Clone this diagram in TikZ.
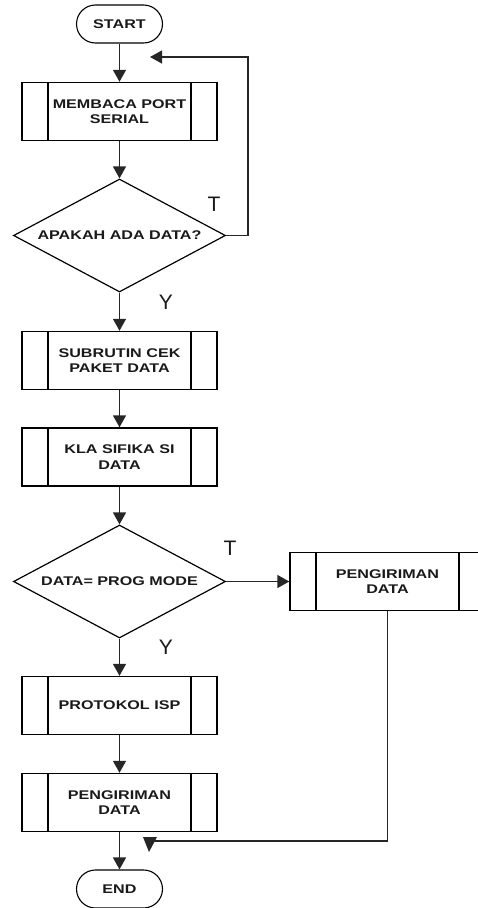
\documentclass[tikz,border=0pt]{standalone}
\usepackage{fontspec}
\setmainfont{Liberation Sans}
\usepackage{graphicx}
\usetikzlibrary{shapes.geometric,arrows.meta}

% wide, bold box captions
\newcommand\wtxt[1]{\scalebox{1.28}[1]{#1}}

\begin{document}
\begin{tikzpicture}[x=1pt,y=-1pt,
  line width=1.4pt,
  every node/.style={font=\fontsize{12.6}{15.5}\selectfont\bfseries, text=black!90},
  flow/.style={-{Triangle[width=13pt,length=12pt]}, draw=black!85},
  term/.style={draw, line width=1.1pt, rounded corners=19pt,
    minimum width=86pt, minimum height=38pt, inner sep=0pt},
  subproc/.style={draw, minimum width=195pt, minimum height=58pt,
    inner sep=0pt, align=center,
    path picture={
      \draw[line width=1.4pt]
        ([xshift=26pt]path picture bounding box.north west) --
        ([xshift=26pt]path picture bounding box.south west);
      \draw[line width=1.4pt]
        ([xshift=-26pt]path picture bounding box.north east) --
        ([xshift=-26pt]path picture bounding box.south east);
    }},
  decision/.style={draw, line width=1.2pt, shape=diamond, aspect=1.88,
    minimum width=212pt, minimum height=113pt, inner sep=0pt},
  branch/.style={font=\fontsize{21}{21}\selectfont\mdseries}
]
\useasboundingbox (0,0) rectangle (478,908);

% main column
\node[term]     (start) at (119.5,24)    {\wtxt{START}};
\node[subproc]  (read)  at (119.5,111.5) {\wtxt{MEMBACA PORT}\\\wtxt{SERIAL}};
\node[decision] (ask)   at (119.5,235.5) {\wtxt{APAKAH ADA DATA?}};
\node[subproc]  (check) at (119.5,360.5) {\wtxt{SUBRUTIN CEK}\\\wtxt{PAKET DATA}};
\node[subproc]  (class) at (119.5,457)   {\wtxt{KLA SIFIKA SI}\\\wtxt{DATA}};
\node[decision] (mode)  at (119.5,581.5) {\wtxt{DATA= PROG MODE}};
\node[subproc]  (isp)   at (119.5,705.5) {\wtxt{PROTOKOL ISP}};
\node[subproc]  (send)  at (119.5,802.5) {\wtxt{PENGIRIMAN}\\\wtxt{DATA}};
\node[term]     (end)   at (119.5,889)   {\wtxt{END}};

% side branch
\node[subproc]  (sendR) at (387.5,581.5) {\wtxt{PENGIRIMAN}\\\wtxt{DATA}};

% branch labels
\node[branch] (askT)  at (214,204) {T};
\node[branch] (askY)  at (166,302) {Y};
\node[branch] (modeT) at (230,548) {T};
\node[branch] (modeY) at (166,647) {Y};

% connectors
\draw[flow] (start) -- (read);
\draw[flow] (read) -- (ask);
\draw[flow] (ask) -- (check);
\draw[flow] (check) -- (class);
\draw[flow] (class) -- (mode);
\draw[flow] (mode) -- (isp);
\draw[flow] (isp) -- (send);
\draw[flow] (send) -- (end);
\draw[flow] (mode.east) -- (mode.east -| sendR.west);

% loop back when no data
\coordinate (loopin) at (150,57);
\draw[flow] (ask.east) -- ++(22,0) |- (loopin);

% return from the side branch
\coordinate (merge) at (150,841);
\draw[draw=black!85] (sendR.south) |- (merge);
\fill[black!85] (merge) ++(-7,-4) -- ++(14,0) -- (149,852) -- cycle;
\end{tikzpicture}
\end{document}
